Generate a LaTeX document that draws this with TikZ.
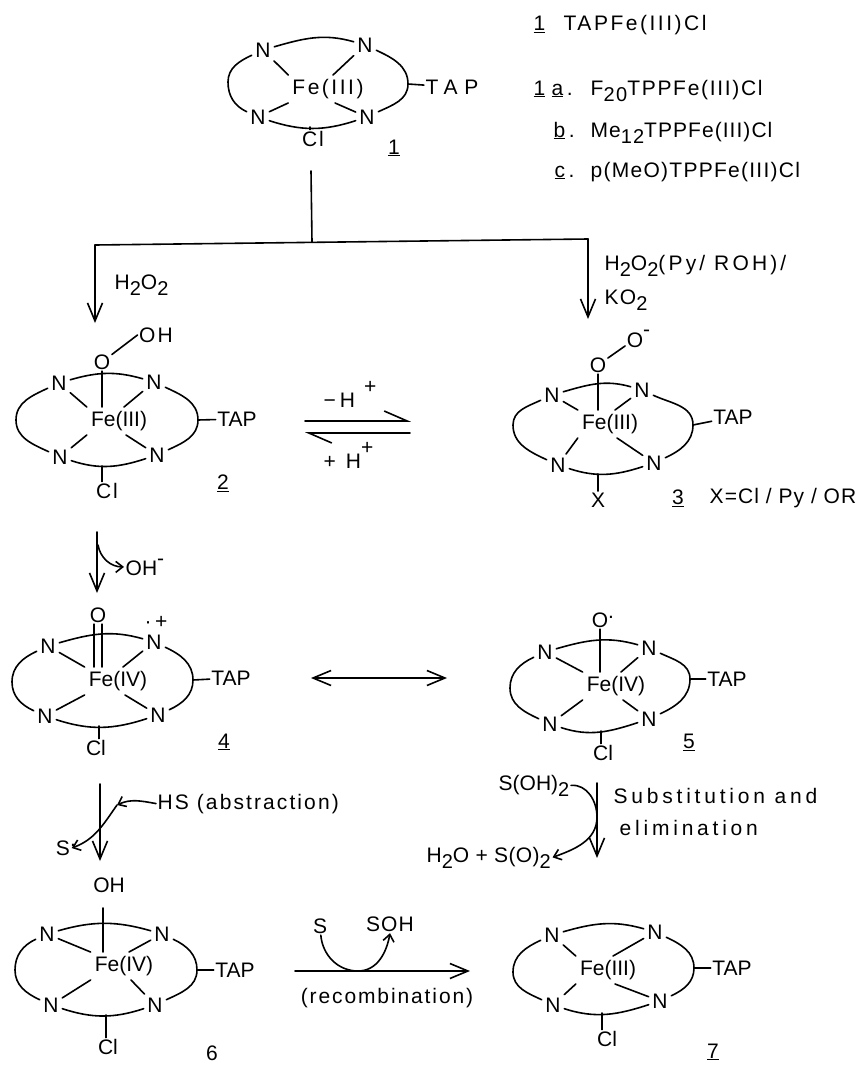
\documentclass[tikz,border=0pt]{standalone}
\usepackage{fontspec}
\setmainfont{Liberation Sans}
\usetikzlibrary{arrows.meta}
\newcommand{\lsp}[1]{\addfontfeatures{LetterSpace=#1}}
\newcommand{\dn}[1]{\raisebox{-6pt}{\fontsize{20}{20}\selectfont #1}}
\tikzset{
    txt/.style={font=\fontsize{21}{21}\selectfont, inner sep=1.5pt},
    lft/.style={txt, anchor=base west},
    atom/.style={txt, inner sep=3.5pt},
    metal/.style={txt, inner sep=4pt},
    bond/.style={line width=1.6pt, line cap=round},
    rxn/.style={bond, -{Straight Barb[length=18pt,width=15pt]}},
    twoway/.style={bond, {Straight Barb[length=18pt,width=15pt]}-{Straight Barb[length=18pt,width=15pt]}},
    hook/.style={bond, -{Straight Barb[length=7pt,width=11pt]}},
    harp/.style={bond, -{Straight Barb[left,length=23pt,width=20pt]}}
}
\begin{document}
\begin{tikzpicture}[x=1pt, y=1pt]
\useasboundingbox (0,0) rectangle (859,-1065);
\foreach \mol/\nwn/\nen/\swn/\sen/\fen/\metalt/\tapn/\tapt/\cln/\clt/\wpt/\ept/\bpt/\labn/\labt in {
1/{263,-50}/{365,-45}/{258,-117}/{367,-117}/{328,-89}/{\lsp{12}Fe(III)}/{452,-87}/{\lsp{32}TAP}/{313,-139}/{\lsp{8}Cl}/{228,-82}/{408,-84}/{310,-127}/{394,-148}/{\underline{1}},
2/{59,-383}/{154,-382}/{60,-457}/{157,-455}/{119,-421}/{Fe(III)}/{237,-419}/{TAP}/{107,-491}/{\lsp{8}Cl}/{16,-420}/{198,-420}/{102,-466}/{223,-483}/{\underline{2}},
3/{552,-395}/{642,-390}/{558,-465}/{654,-463}/{610,-424}/{Fe(III)}/{733,-417}/{TAP}/{598,-500}/{X}/{513,-425}/{693,-425}/{598,-474}/{678,-498}/{\underline{3}},
4/{48,-646}/{154,-642}/{45,-716}/{158,-715}/{118,-681}/{Fe(IV)}/{231,-678}/{TAP}/{96,-748}/{Cl}/{12,-682}/{193,-680}/{99,-726}/{224,-742}/{\underline{4}},
5/{545,-652}/{649,-648}/{550,-724}/{649,-719}/{616,-686}/{Fe(IV)}/{727,-679}/{TAP}/{603,-753}/{Cl}/{510,-688}/{690,-679}/{601,-731}/{689,-742}/{\underline{5}},
6/{47,-934}/{162,-934}/{51,-1005}/{155,-1005}/{124,-966}/{Fe(IV)}/{235,-970}/{TAP}/{108,-1047}/{Cl}/{15,-970}/{197,-970}/{106,-1015}/{212,-1053}/{6},
7/{552,-935}/{655,-932}/{553,-1005}/{660,-1001}/{608,-970}/{Fe(III)}/{732,-968}/{TAP}/{607,-1039}/{Cl}/{513,-972}/{694,-968}/{602,-1013}/{713,-1052}/{\underline{7}}}
{
    \node[atom] (nw\mol) at (\nwn) {N};
    \node[atom] (ne\mol) at (\nen) {N};
    \node[atom] (sw\mol) at (\swn) {N};
    \node[atom] (se\mol) at (\sen) {N};
    \node[metal] (fe\mol) at (\fen) {\metalt};
    \node[txt] (tap\mol) at (\tapn) {\tapt};
    \node[txt] (cl\mol) at (\cln) {\clt};
    \node[txt] (lab\mol) at (\labn) {\labt};
    \coordinate (w\mol) at (\wpt);
    \coordinate (e\mol) at (\ept);
    \coordinate (b\mol) at (\bpt);
    \draw[bond] (nw\mol) to[out=16,in=164] (ne\mol);
    \draw[bond] (sw\mol) to[out=-18,in=198] (se\mol);
    \draw[bond] (nw\mol) to[out=205,in=90] (w\mol) to[out=-90,in=155] (sw\mol);
    \draw[bond] (ne\mol) to[out=-25,in=90] (e\mol) to[out=-90,in=25] (se\mol);
    \draw[bond] (nw\mol) -- (fe\mol.north west);
    \draw[bond] (ne\mol) -- ([xshift=5pt]fe\mol.north);
    \draw[bond] (sw\mol) -- (fe\mol.south west);
    \draw[bond] (se\mol) -- ([xshift=7pt]fe\mol.south);
    \draw[bond] (e\mol) -- (tap\mol);
    \draw[bond] (b\mol) -- (b\mol |- cl\mol.north);
}
\node[txt] (o2) at (102,-362) {O};
\node[txt] (oh2) at (156,-335) {\lsp{10}OH};
\draw[bond] (o2) -- (oh2.west);
\draw[bond] (o2) -- (o2 |- fe2.north);
\node[txt] (o3) at (598,-365) {O};
\node[txt] (oo3) at (635,-339) {O\rlap{\raisebox{11pt}{-}}};
\draw[bond] (o3) -- (oo3);
\draw[bond] (o3) -- (o3 |- fe3.north);
\node[txt] (o4) at (98,-615) {O};
\node[txt] (rad4) at (156,-622) {\textperiodcentered\,+};
\draw[bond] ([xshift=-4pt]o4.south) -- ([xshift=-4pt]o4.south |- fe4.north);
\draw[bond] ([xshift=4pt]o4.south) -- ([xshift=4pt]o4.south |- fe4.north);
\node[txt] (o5) at (600,-620) {O\rlap{\raisebox{9pt}{.}}};
\draw[bond] (o5) -- (o5 |- fe5.north);
\node[txt] (oh6) at (109,-885) {OH};
\coordinate (st6) at (103,-908);
\draw[bond] (st6) -- (st6 |- fe6.north);
\node[lft] (tn1) at (532,-31) {\underline{1}};
\node[lft] (tt1) at (562,-31) {\lsp{12}TAPFe(III)Cl};
\node[lft] (tn2) at (532,-95) {\underline{1}};
\node[lft] (ta) at (550,-95) {\underline{a}\,.};
\node[lft] (tb) at (552,-137) {\underline{b}\,.};
\node[lft] (tc) at (553,-177) {\underline{c}\,.};
\node[lft] (tf) at (589,-95) {\lsp{8}F\dn{20}TPPFe(III)Cl};
\node[lft] (tm) at (589,-137) {\lsp{5}Me\dn{12}TPPFe(III)Cl};
\node[lft] (tp) at (589,-177) {\lsp{6}p(MeO)TPPFe(III)Cl};
\coordinate (top) at (311,-171);
\coordinate (jc) at (312,-242);
\coordinate (jl) at (95,-245);
\coordinate (jr) at (588,-239);
\coordinate (al) at (95,-323);
\coordinate (ar) at (588,-319);
\draw[bond] (top) -- (jc);
\draw[bond] (jl) -- (jr);
\draw[rxn] (jl) -- (al);
\draw[rxn] (jr) -- (ar);
\node[lft] (hl) at (113,-289) {H\dn{2}O\dn{2}};
\node[lft] (hr) at (603,-270) {\lsp{15}H\dn{2}O\dn{2}(Py/ ROH)/};
\node[lft] (ko) at (603,-304) {\lsp{6}KO\dn{2}};
\coordinate (eqa) at (305,-421);
\coordinate (eqb) at (411,-421);
\coordinate (eqc) at (410,-433);
\coordinate (eqd) at (305,-433);
\draw[harp] (eqa) -- (eqb);
\draw[harp] (eqc) -- (eqd);
\node[lft] (mh) at (322,-407) {−\hspace{4pt}H\hspace{9pt}\raisebox{14pt}{+}};
\node[lft] (ph) at (322,-468) {+\hspace{10pt}H\raisebox{14pt}{+}};
\node[txt] (xdef) at (783,-498) {\lsp{5}X=Cl / Py / OR};
\coordinate (aa) at (97,-532);
\coordinate (ab) at (97,-593);
\coordinate (ac) at (98,-545);
\node[lft] (ohm) at (124,-575) {OH\raisebox{10pt}{-}};
\draw[rxn] (aa) -- (ab);
\draw[hook] (ac) to[out=-80,in=180] (ohm.west);
\coordinate (da) at (311,-678);
\coordinate (db) at (447,-678);
\draw[twoway] (da) -- (db);
\coordinate (ca) at (100,-784);
\coordinate (cb) at (100,-861);
\coordinate (ck) at (117,-805);
\node[lft] (hs) at (156,-809) {\lsp{10}HS (abstraction)};
\node[txt] (srad) at (63,-848) {S\rlap{\raisebox{9pt}{.}}};
\draw[rxn] (ca) -- (cb);
\draw[hook] (hs.west) to[out=170,in=25] (ck);
\draw[hook] (ck) to[out=235,in=20] (srad.east);
\coordinate (fa) at (597,-783);
\coordinate (fb) at (597,-858);
\coordinate (fk) at (597,-817);
\node[lft] (soh2) at (497,-790) {S(OH)\dn{2}};
\node[lft] (hso) at (425,-862) {\lsp{2}H\dn{2}O + S(O)\dn{2}};
\node[lft] (subst) at (612,-803) {\lsp{18}Substitution and};
\node[lft] (elim) at (618,-835) {\lsp{18}elimination};
\draw[rxn] (fa) -- (fb);
\draw[hook] (soh2.east) to[out=5,in=90] (fk) to[out=-90,in=20] (hso.east);
\coordinate (ra) at (295,-971);
\coordinate (rb) at (470,-971);
\coordinate (rm) at (358,-971);
\node[txt] (srec) at (320,-926) {S};
\node[txt] (sohr) at (390,-924) {\lsp{5}SOH};
\node[txt] (recomb) at (387,-998) {\lsp{9}(recombination)};
\draw[rxn] (ra) -- (rb);
\draw[hook] (srec) to[out=-85,in=180] (rm) to[out=0,in=-100] (sohr.south);
\end{tikzpicture}
\end{document}
